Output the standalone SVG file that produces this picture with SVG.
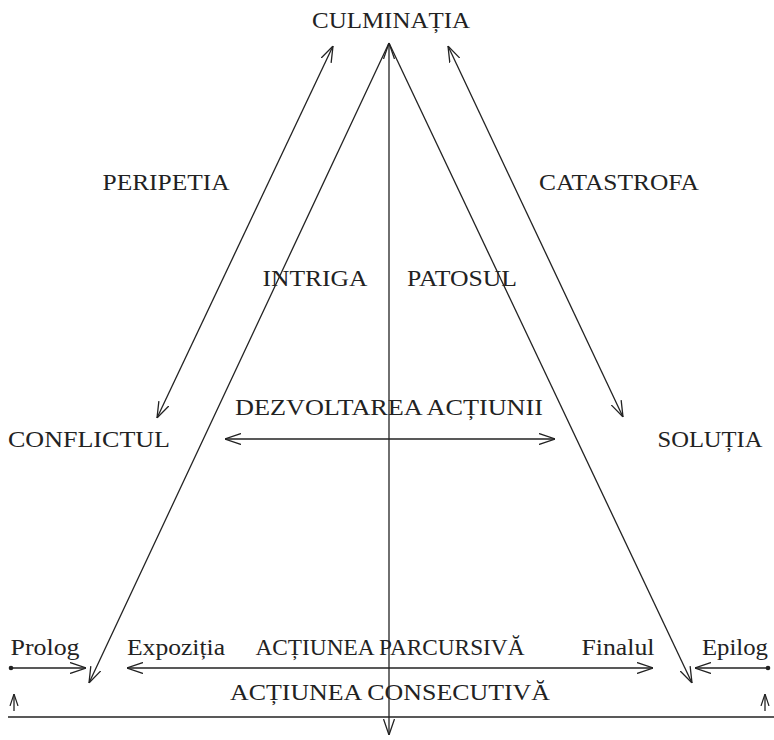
<svg xmlns="http://www.w3.org/2000/svg" width="774" height="740" viewBox="0 0 774 740">
<defs>
<style>
text{font-family:"Liberation Serif","Times New Roman",serif;font-size:23px;fill:#222;text-anchor:middle}
.c{fill:none;stroke:#222;stroke-width:1.3}
</style>
<marker id="ah" viewBox="0 0 16 12" refX="16" refY="6" markerWidth="16" markerHeight="12" markerUnits="userSpaceOnUse" orient="auto-start-reverse"><path d="M0,0.5 L16,6 L0,11.5" fill="none" stroke="#222" stroke-width="1.3"/></marker>
<marker id="sm" viewBox="0 0 12 10" refX="12" refY="5" markerWidth="12" markerHeight="10" markerUnits="userSpaceOnUse" orient="auto"><path d="M0,1 L12,5 L0,9" fill="none" stroke="#222" stroke-width="1.2"/></marker>
</defs>
<rect width="774" height="740" fill="#fff"/>
<g id="connectors">
<line class="c" x1="389" y1="735" x2="389" y2="43" marker-start="url(#ah)" marker-end="url(#ah)"/>
<line class="c" x1="389" y1="43" x2="89" y2="683" marker-end="url(#ah)"/>
<line class="c" x1="389" y1="43" x2="692" y2="683" marker-end="url(#ah)"/>
<line class="c" x1="333" y1="46" x2="157" y2="418" marker-start="url(#ah)" marker-end="url(#ah)"/>
<line class="c" x1="448" y1="46" x2="623" y2="417" marker-start="url(#ah)" marker-end="url(#ah)"/>
<line class="c" x1="225" y1="439" x2="555" y2="439" marker-start="url(#ah)" marker-end="url(#ah)"/>
<line class="c" x1="127" y1="668" x2="653" y2="668" marker-start="url(#ah)" marker-end="url(#ah)"/>
<line class="c" x1="11" y1="668" x2="86" y2="668" marker-end="url(#ah)"/>
<line class="c" x1="768" y1="668" x2="695" y2="668" marker-end="url(#ah)"/>
<circle cx="11" cy="668" r="2.3" fill="#222"/>
<circle cx="768" cy="668" r="2.3" fill="#222"/>
<line class="c" x1="14" y1="711" x2="14" y2="694" marker-end="url(#sm)"/>
<line class="c" x1="765" y1="711" x2="765" y2="694" marker-end="url(#sm)"/>
<line class="c" x1="8" y1="717" x2="774" y2="717"/>
</g>
<g id="culminatia"><text x="391" y="28" textLength="158" lengthAdjust="spacingAndGlyphs">CULMINAȚIA</text></g>
<g id="peripetia"><text x="166" y="190" textLength="127" lengthAdjust="spacingAndGlyphs">PERIPETIA</text></g>
<g id="catastrofa"><text x="619" y="190" textLength="160" lengthAdjust="spacingAndGlyphs">CATASTROFA</text></g>
<g id="intriga"><text x="315" y="286" textLength="105" lengthAdjust="spacingAndGlyphs">INTRIGA</text></g>
<g id="patosul"><text x="462" y="286" textLength="110" lengthAdjust="spacingAndGlyphs">PATOSUL</text></g>
<g id="dezvoltarea"><text x="389" y="415" textLength="308" lengthAdjust="spacingAndGlyphs">DEZVOLTAREA ACȚIUNII</text></g>
<g id="conflictul"><text x="89" y="447" textLength="162" lengthAdjust="spacingAndGlyphs">CONFLICTUL</text></g>
<g id="solutia"><text x="710" y="447" textLength="105" lengthAdjust="spacingAndGlyphs">SOLUȚIA</text></g>
<g id="prolog"><text x="45" y="655" textLength="69" lengthAdjust="spacingAndGlyphs">Prolog</text></g>
<g id="expozitia"><text x="176" y="655" textLength="98" lengthAdjust="spacingAndGlyphs">Expoziția</text></g>
<g id="parcursiva"><text x="390" y="655" textLength="269" lengthAdjust="spacingAndGlyphs">ACȚIUNEA PARCURSIVĂ</text></g>
<g id="finalul"><text x="618" y="655" textLength="73" lengthAdjust="spacingAndGlyphs">Finalul</text></g>
<g id="epilog"><text x="735" y="655" textLength="66" lengthAdjust="spacingAndGlyphs">Epilog</text></g>
<g id="consecutiva"><text x="390" y="700" textLength="320" lengthAdjust="spacingAndGlyphs">ACȚIUNEA CONSECUTIVĂ</text></g>
</svg>
